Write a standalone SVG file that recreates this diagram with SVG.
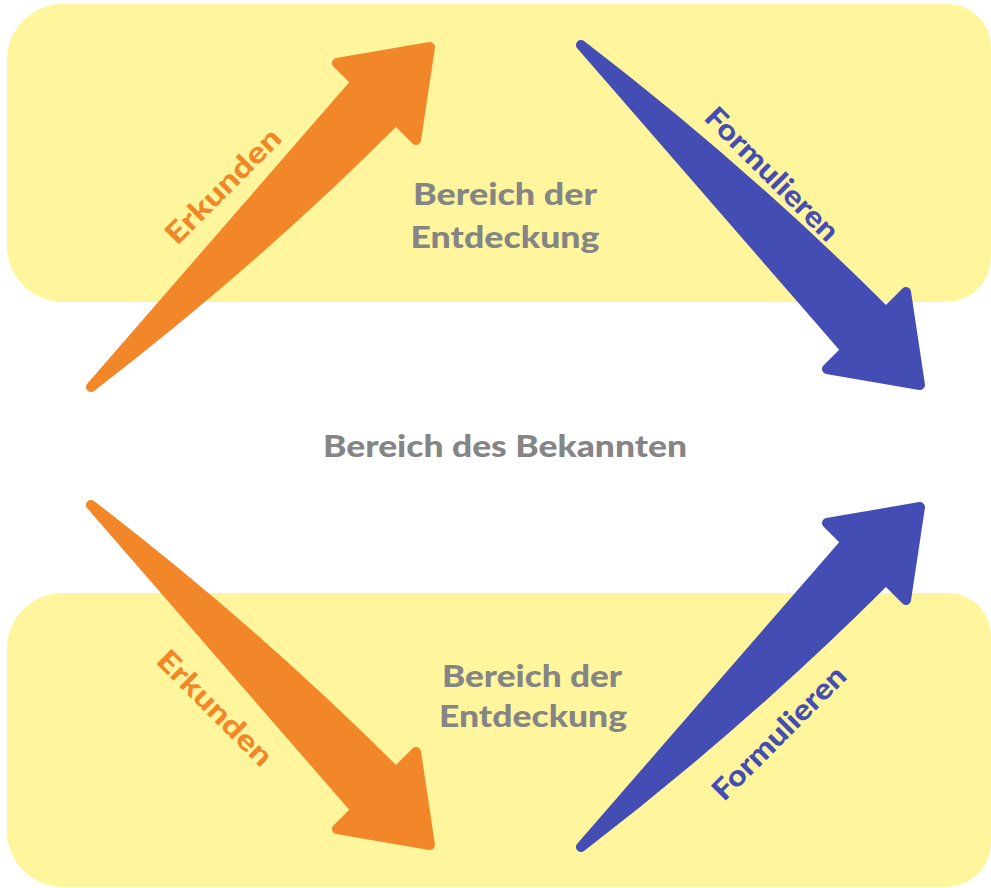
<svg xmlns="http://www.w3.org/2000/svg" width="991" height="888" viewBox="0 0 991 888">
  <style>
    .zone { fill: #FFF59C; }
    .title { font-family: "Lato", "Liberation Sans", sans-serif; font-weight: 900; font-size: 31px; fill: #858585; text-anchor: middle; }
    .lbl { font-family: "Lato", "Liberation Sans", sans-serif; font-weight: 900; font-size: 29px; text-anchor: middle; dominant-baseline: central; }
    .orange { fill: #F28729; stroke: #F28729; }
    .blue { fill: #434DB3; stroke: #434DB3; }
    .arrow { stroke-width: 10; stroke-linejoin: round; }
    .tO { fill: #F28729; }
    .tB { fill: #434DB3; }
  </style>
  <defs>
    <path id="arrowShape" d="M 91,387 L 356,82 L 337,63 L 430,47 L 416,140 L 396,120 Q 254,262 91,387 Z"/>
  </defs>
  <rect width="991" height="888" fill="#FFFFFF"/>

  <g id="zone-top">
    <path class="zone" d="M 63,4 H 948 A 43,43 0 0 1 991,47 V 257 A 45,45 0 0 1 946,302 H 63 A 56,56 0 0 1 7,246 V 60 A 56,56 0 0 1 63,4 Z"/>
    <text class="title" x="505" y="205" textLength="184" lengthAdjust="spacingAndGlyphs">Bereich der</text>
    <text class="title" x="505" y="248" textLength="189" lengthAdjust="spacingAndGlyphs">Entdeckung</text>
  </g>

  <g id="zone-bottom">
    <path class="zone" d="M 63,593 H 948 A 43,43 0 0 1 991,636 V 842 A 45,45 0 0 1 946,887 H 63 A 56,56 0 0 1 7,831 V 649 A 56,56 0 0 1 63,593 Z"/>
    <text class="title" x="532" y="687" textLength="180" lengthAdjust="spacingAndGlyphs">Bereich der</text>
    <text class="title" x="533" y="727" textLength="188" lengthAdjust="spacingAndGlyphs">Entdeckung</text>
  </g>

  <g id="zone-known">
    <text class="title" x="505" y="457" textLength="364" lengthAdjust="spacingAndGlyphs">Bereich des Bekannten</text>
  </g>

  <g id="connectors">
    <g id="arrow-explore-top">
      <use href="#arrowShape" class="arrow orange"/>
      <text class="lbl tO" transform="translate(222,185) rotate(-45)" textLength="150" lengthAdjust="spacingAndGlyphs">Erkunden</text>
    </g>
    <g id="arrow-formulate-top">
      <use href="#arrowShape" class="arrow blue" transform="matrix(1,0,0,-1,490,432)"/>
      <text class="lbl tB" transform="translate(773,173) rotate(45)" textLength="176" lengthAdjust="spacingAndGlyphs">Formulieren</text>
    </g>
    <g id="arrow-explore-bottom">
      <use href="#arrowShape" class="arrow orange" transform="matrix(1,0,0,-1,0,892)"/>
      <text class="lbl tO" transform="translate(216,707) rotate(45)" textLength="150" lengthAdjust="spacingAndGlyphs">Erkunden</text>
    </g>
    <g id="arrow-formulate-bottom">
      <use href="#arrowShape" class="arrow blue" transform="translate(490,460)"/>
      <text class="lbl tB" transform="translate(778,732) rotate(-45)" textLength="176" lengthAdjust="spacingAndGlyphs">Formulieren</text>
    </g>
  </g>
</svg>
